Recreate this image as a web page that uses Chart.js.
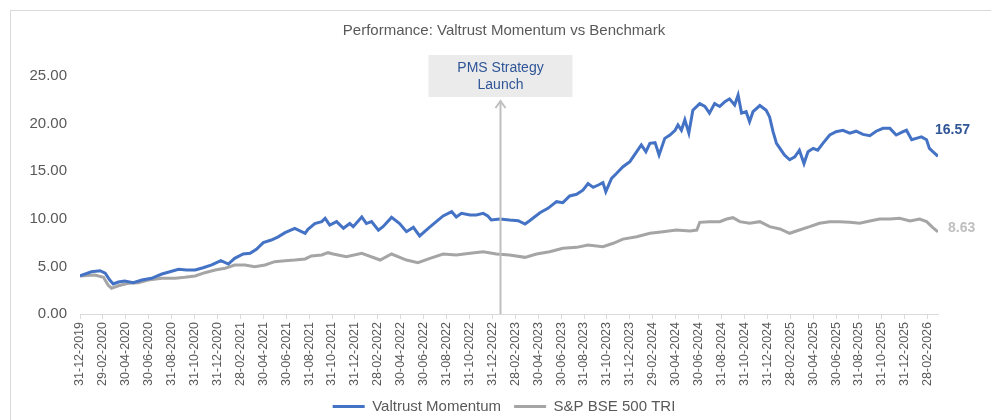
<!DOCTYPE html>
<html>
<head>
<meta charset="utf-8">
<script src="https://cdn.jsdelivr.net/npm/chart.js@4.4.1/dist/chart.umd.min.js"></script>
<style>
  html, body { margin: 0; padding: 0; background: #fff; }
  #wrap { position: relative; width: 991px; height: 420px; overflow: hidden; }
  #frame { position: absolute; left: 10px; top: 10px; width: 1000px; height: 420px;
           border-left: 1px solid #d9d9d9; border-top: 1px solid #d9d9d9; }
  canvas { position: absolute; left: 0; top: 0; }
</style>
</head>
<body>
<div id="wrap">
  <div id="frame"></div>
  <canvas id="grafico" width="991" height="420"></canvas>
</div>
<script>
// x axis labels, one every 2 months starting 31-12-2019
const tickLabels = [
  "31-12-2019", "29-02-2020", "30-04-2020", "30-06-2020", "31-08-2020", "31-10-2020",
  "31-12-2020", "28-02-2021", "30-04-2021", "30-06-2021", "31-08-2021", "31-10-2021",
  "31-12-2021", "28-02-2022", "30-04-2022", "30-06-2022", "31-08-2022", "31-10-2022",
  "31-12-2022", "28-02-2023", "30-04-2023", "30-06-2023", "31-08-2023", "31-10-2023",
  "31-12-2023", "29-02-2024", "30-04-2024", "30-06-2024", "31-08-2024", "31-10-2024",
  "31-12-2024", "28-02-2025", "30-04-2025", "30-06-2025", "31-08-2025", "31-10-2025",
  "31-12-2025", "28-02-2026"
];

const seriesNames = ["Valtrust Momentum", "S&P BSE 500 TRI"];

// months after 31-12-2019
const momentumMonths = [
  0, 1.0, 1.75, 2.2, 2.6, 2.9, 3.35, 3.9, 4.65, 5.4, 6.25, 7.15, 7.85, 8.6, 9.3, 10.05,
  10.75, 11.5, 12.3, 12.95, 13.5, 14.25, 14.85, 15.4, 16.0, 16.7, 17.3, 17.9, 18.75, 19.65,
  19.9, 20.5, 21.1, 21.4, 21.8, 22.4, 23.0, 23.55, 23.85, 24.6, 25.0, 25.45, 26.05, 26.45,
  27.2, 27.9, 28.5, 29.1, 29.65, 30.4, 31.1, 31.7, 32.45, 32.85, 33.3, 34.05, 34.6, 35.2,
  35.6, 35.9, 36.65, 37.5, 38.25, 38.85, 39.25, 40.15, 40.85, 41.6, 42.15, 42.75, 43.35,
  43.9, 44.35, 44.8, 45.25, 45.65, 45.9, 46.4, 46.85, 47.4, 48.0, 48.6, 49.0, 49.4, 49.75,
  50.2, 50.55, 51.05, 51.5, 51.95, 52.2, 52.5, 52.8, 53.15, 53.5, 54.1, 54.55, 54.95, 55.4,
  55.85, 56.3, 56.7, 57.15, 57.45, 57.75, 58.15, 58.45, 58.75, 59.35, 59.9, 60.2, 60.5,
  60.8, 61.1, 61.5, 61.95, 62.4, 62.8, 63.2, 63.55, 64.0, 64.4, 64.85, 65.45, 66.0, 66.6,
  67.2, 67.75, 68.35, 68.95, 69.5, 70.1, 70.7, 71.25, 71.85, 72.15, 72.6, 73.0, 73.45,
  73.9, 74.15, 74.45, 74.9
];
const momentumValues = [
  4.0, 4.44, 4.55, 4.3, 3.57, 3.15, 3.36, 3.47, 3.29, 3.57, 3.75, 4.2, 4.44, 4.7, 4.62, 4.62,
  4.86, 5.15, 5.6, 5.25, 5.85, 6.3, 6.37, 6.8, 7.5, 7.77, 8.1, 8.54, 9.0, 8.48,
  8.9, 9.5, 9.7, 10.05, 9.35, 9.7, 9.0, 9.5, 9.17, 10.2, 9.5, 9.7, 8.8, 9.17,
  10.15, 9.5, 8.65, 9.1, 8.2, 9.0, 9.7, 10.3, 10.75, 10.2, 10.57, 10.4, 10.4, 10.57,
  10.3, 9.87, 9.98, 9.87, 9.8, 9.45, 9.8, 10.64, 11.1, 11.8, 11.7, 12.4, 12.57,
  13.0, 13.7, 13.3, 13.55, 13.8, 12.85, 14.25, 14.78, 15.47, 16.0, 17.05, 17.75, 17.05, 17.93,
  18.0, 16.7, 18.45, 18.8, 19.3, 19.85, 19.3, 20.4, 19.0, 21.4, 22.1, 21.8, 21.1, 22.1,
  21.8, 22.3, 22.6, 21.95, 23.0, 21.1, 21.25, 20.2, 21.25, 21.9, 21.4, 20.7, 19.15,
  17.93, 17.4, 16.7, 16.2, 16.5, 17.2, 15.8, 17.05, 17.4, 17.2, 17.93, 18.8, 19.15, 19.3,
  19.0, 19.2, 18.87, 18.73, 19.2, 19.5, 19.5, 18.8, 19.15, 19.3, 18.3, 18.45, 18.6,
  18.3, 17.4, 17.05, 16.57
];

const benchMonths = [
  0, 1.3, 2.05, 2.45, 2.75, 3.35, 4.2, 5.1, 5.95, 7.15, 8.3, 9.15, 10.05, 10.9, 11.8, 12.65,
  13.5, 14.4, 15.25, 16.15, 17.0, 17.9, 18.75, 19.65, 20.2, 21.1, 21.65, 22.1, 23.25, 24.6,
  26.2, 27.2, 28.5, 29.5, 30.55, 31.7, 32.85, 34.05, 35.2, 36.35, 37.5, 38.85, 39.85, 41.0,
  42.15, 43.35, 44.35, 45.65, 46.55, 47.4, 48.6, 49.75, 50.9, 52.05, 53.25, 53.85, 54.1,
  54.95, 55.85, 56.45, 57.0, 57.6, 58.45, 59.35, 60.2, 61.1, 61.95, 62.8, 63.7, 64.55,
  65.45, 66.3, 67.2, 68.05, 68.95, 69.8, 70.7, 71.55, 72.45, 73.3, 73.9, 74.45, 74.9
];
const benchValues = [
  4.0, 4.1, 3.85, 3.05, 2.7, 2.97, 3.22, 3.29, 3.57, 3.75, 3.75, 3.85, 4.0, 4.34, 4.62, 4.8,
  5.15, 5.15, 4.97, 5.15, 5.5, 5.6, 5.67, 5.78, 6.1, 6.2, 6.44, 6.3, 6.02, 6.37,
  5.67, 6.3, 5.67, 5.39, 5.85, 6.3, 6.2, 6.37, 6.54, 6.3, 6.2, 5.95, 6.3, 6.54,
  6.9, 7.0, 7.25, 7.07, 7.43, 7.87, 8.12, 8.48, 8.64, 8.82, 8.72, 8.82, 9.63,
  9.7, 9.7, 9.98, 10.12, 9.7, 9.53, 9.7, 9.17, 8.93, 8.48, 8.82, 9.17, 9.53,
  9.7, 9.7, 9.63, 9.53, 9.77, 9.98, 9.98, 10.05, 9.77, 9.98, 9.7, 9.07, 8.63
];

const launchMonth = 36.7;
const launchText = ["PMS Strategy", "Launch"];

const FONTE = "'Liberation Sans', Arial, sans-serif";
const CINZA_TEXTO = "#595959";
const AZUL = "#4472C4";
const CINZA = "#A5A5A5";

function pontos(meses, valores) {
  return meses.map((m, i) => ({ x: m, y: valores[i] }));
}

// caixa + seta do lançamento
const launchPlugin = {
  id: "launch",
  afterDatasetsDraw(chart) {
    const { ctx, scales } = chart;
    const x = Math.round(scales.x.getPixelForValue(launchMonth)) + 0.5;
    const yBase = scales.y.getPixelForValue(0);
    ctx.save();
    ctx.fillStyle = "#ebebeb";
    ctx.fillRect(x - 72, 55, 144, 42);
    ctx.fillStyle = "#2f5597";
    ctx.font = "14px " + FONTE;
    ctx.textAlign = "center";
    ctx.textBaseline = "middle";
    ctx.fillText(launchText[0], x, 68);
    ctx.fillText(launchText[1], x, 85);
    ctx.strokeStyle = "#bfbfbf";
    ctx.lineWidth = 2;
    ctx.beginPath();
    ctx.moveTo(x, yBase);
    ctx.lineTo(x, 101);
    ctx.stroke();
    ctx.beginPath();
    ctx.moveTo(x - 5, 108);
    ctx.lineTo(x, 101);
    ctx.lineTo(x + 5, 108);
    ctx.stroke();
    ctx.restore();
  }
};

// valor final de cada série
const endLabelPlugin = {
  id: "endLabels",
  afterDatasetsDraw(chart) {
    const { ctx } = chart;
    const cores = ["#2f5597", "#bfbfbf"];
    const offsets = [-26, -4];
    ctx.save();
    ctx.font = "bold 14px " + FONTE;
    ctx.textBaseline = "middle";
    ctx.textAlign = "left";
    chart.data.datasets.forEach((ds, i) => {
      const meta = chart.getDatasetMeta(i);
      const last = meta.data[meta.data.length - 1];
      const v = ds.data[ds.data.length - 1].y;
      ctx.fillStyle = cores[i];
      ctx.fillText(v.toFixed(2), last.x + (i === 0 ? -3 : 10), last.y + offsets[i]);
    });
    ctx.restore();
  }
};

new Chart(document.getElementById("grafico"), {
  type: "line",
  data: {
    datasets: [
      {
        label: seriesNames[0],
        data: pontos(momentumMonths, momentumValues),
        borderColor: AZUL,
        backgroundColor: AZUL,
        borderWidth: 3,
        pointRadius: 0,
        tension: 0
      },
      {
        label: seriesNames[1],
        data: pontos(benchMonths, benchValues),
        borderColor: CINZA,
        backgroundColor: CINZA,
        borderWidth: 3,
        pointRadius: 0,
        tension: 0
      }
    ]
  },
  options: {
    responsive: false,
    animation: false,
    layout: { padding: { left: 17, right: 0, top: 0, bottom: -4 } },
    plugins: {
      title: {
        display: true,
        text: "Performance: Valtrust Momentum vs Benchmark",
        color: CINZA_TEXTO,
        font: { family: FONTE, size: 15, weight: "normal" },
        padding: { top: 22, bottom: 36 }
      },
      legend: {
        position: "bottom",
        labels: {
          color: CINZA_TEXTO,
          font: { family: FONTE, size: 15 },
          usePointStyle: true,
          pointStyle: "line",
          pointStyleWidth: 32,
          padding: 13
        }
      },
      tooltip: { enabled: false }
    },
    scales: {
      x: {
        type: "linear",
        min: 0,
        max: 74.9,
        afterBuildTicks: (scale) => {
          scale.ticks = tickLabels.map((_, i) => ({ value: i * 2 }));
        },
        afterFit: (scale) => { scale.height = 72; },
        ticks: {
          autoSkip: false,
          maxRotation: 90,
          minRotation: 90,
          padding: 3,
          color: CINZA_TEXTO,
          font: { family: FONTE, size: 12.5 },
          callback: (v, i) => tickLabels[i]
        },
        grid: { drawOnChartArea: false, color: "#d9d9d9", tickLength: 5 },
        border: { color: "#d9d9d9" }
      },
      y: {
        min: 0,
        max: 25,
        afterFit: (scale) => { scale.width = 63; },
        ticks: {
          stepSize: 5,
          padding: 5,
          color: CINZA_TEXTO,
          font: { family: FONTE, size: 15 },
          callback: (v) => v.toFixed(2)
        },
        grid: { display: false },
        border: { display: false }
      },
      // espaço vazio à direita para os rótulos finais
      yDir: {
        position: "right",
        min: 0,
        max: 25,
        afterFit: (scale) => { scale.width = 53; },
        ticks: { display: false },
        grid: { display: false },
        border: { display: false }
      }
    }
  },
  plugins: [launchPlugin, endLabelPlugin]
});
</script>
</body>
</html>
